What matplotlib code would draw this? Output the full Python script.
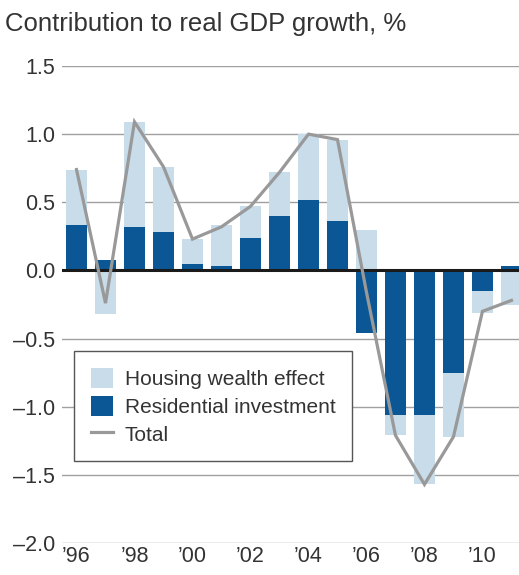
import numpy as np
import matplotlib.pyplot as plt
from matplotlib.patches import Patch
from matplotlib.lines import Line2D

plt.rcParams['font.family'] = ['Liberation Sans', 'DejaVu Sans']

years = np.arange(1996, 2012)
residential = [0.33, 0.08, 0.32, 0.28, 0.05, 0.03, 0.24, 0.40, 0.52, 0.36,
               -0.46, -1.06, -1.06, -0.75, -0.15, 0.03]
housing = [0.41, -0.32, 0.77, 0.48, 0.18, 0.30, 0.23, 0.32, 0.48, 0.60,
           0.30, -0.15, -0.51, -0.47, -0.16, -0.25]
total = [0.74, -0.24, 1.09, 0.76, 0.23, 0.32, 0.47, 0.72, 1.00, 0.96,
         -0.16, -1.21, -1.57, -1.22, -0.30, -0.22]
yticks = [1.5, 1.0, 0.5, 0.0, -0.5, -1.0, -1.5, -2.0]
xtick_years = [1996, 1998, 2000, 2002, 2004, 2006, 2008, 2010]

dark = '#0b5796'
light = '#c8dcea'
grey_line = '#999999'
text_col = '#333333'

res = np.array(residential)
hou = np.array(housing)
# housing stacks on top of residential when signs match, otherwise starts at zero
hou_base = np.where(np.sign(hou) == np.sign(res), res, 0.0)

fig = plt.figure(figsize=(5.19, 5.75), dpi=100)
ax = fig.add_axes([62/519, 1 - 543/575, 457/519, 477/575])

for y in yticks:
    if y != 0:
        ax.axhline(y, color='#a0a0a0', linewidth=1.0, zorder=0)

ax.bar(years, res, width=0.72, color=dark, zorder=2)
ax.bar(years, hou, bottom=hou_base, width=0.72, color=light, zorder=2)
ax.axhline(0, color='#1a1a1a', linewidth=2.2, zorder=3)
ax.plot(years, total, color=grey_line, linewidth=2.3, zorder=4,
        solid_joinstyle='miter')

ax.set_xlim(1995.5, 2011.26)
ax.set_ylim(-2.0, 1.5)
ax.set_yticks(yticks)
ax.set_yticklabels([f"{v:.1f}".replace('-', '\u2013') for v in yticks],
                   fontsize=15.5, color=text_col)
ax.set_xticks(xtick_years)
ax.set_xticklabels(["\u2019" + str(y)[2:] for y in xtick_years],
                   fontsize=15.5, color=text_col)
ax.tick_params(axis='both', length=0)
ax.tick_params(axis='y', pad=5)
ax.tick_params(axis='x', pad=2)
for s in ax.spines.values():
    s.set_visible(False)

fig.text(0.01, 0.98, "Contribution to real GDP growth, %", fontsize=18.5,
         color=text_col, ha='left', va='top')

handles = [Patch(facecolor=light, edgecolor='none', label='Housing wealth effect'),
           Patch(facecolor=dark, edgecolor='none', label='Residential investment'),
           Line2D([0], [0], color=grey_line, linewidth=2.3, label='Total')]
leg = ax.legend(handles=handles, loc='upper left', bbox_to_anchor=(0.026, 0.4025),
                borderaxespad=0, fontsize=15, frameon=True, fancybox=False,
                borderpad=0.8, handlelength=1.1, handleheight=1.1,
                handletextpad=0.53, labelspacing=0.33, labelcolor=text_col)
leg.get_frame().set_edgecolor('#555555')
leg.get_frame().set_linewidth(1.0)
leg.get_frame().set_alpha(1)
leg.set_zorder(5)

plt.savefig("out.png", dpi=100)
